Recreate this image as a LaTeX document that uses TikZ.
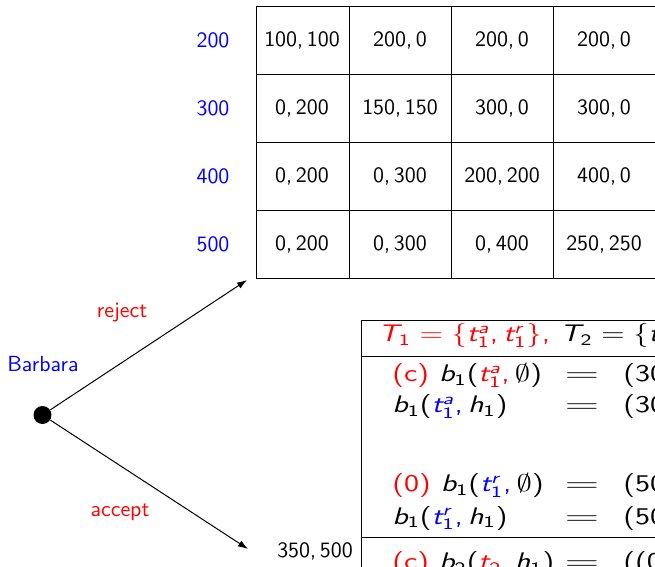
\documentclass[tikz,border=0pt,11pt]{standalone}
\usepackage{graphicx}
\usetikzlibrary{arrows.meta}
\DeclareSymbolFont{sfup}{TU}{lmss}{m}{n}
\DeclareSymbolFont{sfsl}{TU}{lmss}{m}{sl}
\DeclareMathSymbol{a}{\mathalpha}{sfsl}{`a}
\DeclareMathSymbol{b}{\mathalpha}{sfsl}{`b}
\DeclareMathSymbol{h}{\mathalpha}{sfsl}{`h}
\DeclareMathSymbol{r}{\mathalpha}{sfsl}{`r}
\DeclareMathSymbol{t}{\mathalpha}{sfsl}{`t}
\DeclareMathSymbol{T}{\mathalpha}{sfsl}{`T}
\DeclareMathSymbol{0}{\mathalpha}{sfup}{`0}
\DeclareMathSymbol{1}{\mathalpha}{sfup}{`1}
\DeclareMathSymbol{2}{\mathalpha}{sfup}{`2}
\DeclareMathSymbol{3}{\mathalpha}{sfup}{`3}
\DeclareMathSymbol{4}{\mathalpha}{sfup}{`4}
\DeclareMathSymbol{5}{\mathalpha}{sfup}{`5}
\DeclareMathSymbol{6}{\mathalpha}{sfup}{`6}
\DeclareMathSymbol{7}{\mathalpha}{sfup}{`7}
\DeclareMathSymbol{8}{\mathalpha}{sfup}{`8}
\DeclareMathSymbol{9}{\mathalpha}{sfup}{`9}
\DeclareMathSymbol{=}{\mathrel}{sfup}{`=}
\DeclareMathSymbol{,}{\mathpunct}{sfup}{`,}
\DeclareMathSymbol{(}{\mathopen}{sfup}{`(}
\DeclareMathSymbol{)}{\mathclose}{sfup}{`)}
\newcommand{\wideb}[1]{\scalebox{1.28}[1]{#1}}
\newcommand{\wideq}{\scalebox{1.9}[1]{$=$}}
\newcommand{\rc}{\mathpunct{\textcolor{red}{,}}}
\newcommand{\bc}{\mathpunct{\textcolor{blue}{,}}}
\tikzset{
  every node/.style={font=\sffamily, inner sep=0pt},
  cell/.style={anchor=base},
  rowlab/.style={anchor=base, text=blue},
  grid line/.style={line width=0.5pt, black},
  dotnode/.style={circle, fill=black, minimum size=9pt},
  arr/.style={line width=0.5pt, -{Latex[length=5pt,width=3.4pt]}},
  boxtext/.style={font=\sffamily\fontsize{12}{14}\selectfont},
  lhs/.style={boxtext, anchor=base west},
  eqs/.style={boxtext, anchor=base},
  rhs/.style={boxtext, anchor=base west}
}
\begin{document}
\begin{tikzpicture}[x={(0.5pt,0)}, y={(0,-0.5pt)}]
\useasboundingbox (0,0) rectangle (655,567);
\clip (0,0) rectangle (655,567);
% payoff table
\draw[grid line] (256,7) -- (700,7);
\draw[grid line] (256,75) -- (700,75);
\draw[grid line] (256,143) -- (700,143);
\draw[grid line] (256,211) -- (700,211);
\draw[grid line] (256,279) -- (700,279);
\draw[grid line] (256,7) -- (256,279);
\draw[grid line] (349,7) -- (349,279);
\draw[grid line] (451,7) -- (451,279);
\draw[grid line] (553,7) -- (553,279);
\node[rowlab] (r1) at (213,48) {$200$};
\node[rowlab] (r2) at (213,116) {$300$};
\node[rowlab] (r3) at (213,184) {$400$};
\node[rowlab] (r4) at (213,252) {$500$};
\node[cell] (c11) at (302,47) {$100, 100$};
\node[cell] (c12) at (400,47) {$200, 0$};
\node[cell] (c13) at (502,47) {$200, 0$};
\node[cell] (c14) at (604,47) {$200, 0$};
\node[cell] (c21) at (302,115) {$0, 200$};
\node[cell] (c22) at (400,115) {$150, 150$};
\node[cell] (c23) at (502,115) {$300, 0$};
\node[cell] (c24) at (604,115) {$300, 0$};
\node[cell] (c31) at (302,183) {$0, 200$};
\node[cell] (c32) at (400,183) {$0, 300$};
\node[cell] (c33) at (502,183) {$200, 200$};
\node[cell] (c34) at (604,183) {$400, 0$};
\node[cell] (c41) at (302,251) {$0, 200$};
\node[cell] (c42) at (400,251) {$0, 300$};
\node[cell] (c43) at (502,251) {$0, 400$};
\node[cell] (c44) at (604,251) {$250, 250$};
% tree
\node[dotnode] (root) at (42.5,415) {};
\coordinate (rtip) at (247,280);
\coordinate (atip) at (248,549);
\draw[arr] (root) -- (rtip);
\draw[arr] (root) -- (atip);
\node[text=blue, anchor=base] (barb) at (43,372) {Barbara};
\node[text=red] (rej) at (122,313) {reject};
\node[text=red] (acc) at (120,512) {accept};
\node[anchor=base] (pay) at (315,558) {$350, 500$};
% belief box
\draw[grid line] (700,321) -- (361,321) -- (361,600);
\draw[grid line] (361,357) -- (700,357);
\draw[grid line] (361,538) -- (700,538);
\node[lhs] (hd) at (378,342) {\wideb{\color{red}$T_1=\{t_1^a,t_1^r\},$\ \color{black}$T_2=\{t_2^a,t_2^r\}$}};
\node[lhs] (l1) at (392,382) {\wideb{\color{red}(c)\ \color{black}$b_1(\textcolor{red}{t_1^a}\rc\emptyset)$}};
\node[eqs] (e1) at (582,382) {\wideq};
\node[rhs] (v1) at (623,382) {\wideb{$(300, 0)$}};
\node[lhs] (l2) at (392,413) {\wideb{$b_1(\textcolor{blue}{t_1^a}\bc h_1)$}};
\node[eqs] (e2) at (582,413) {\wideq};
\node[rhs] (v2) at (623,413) {\wideb{$(300, 0)$}};
\node[lhs] (l3) at (392,492) {\wideb{\color{red}(0)\ \color{black}$b_1(\textcolor{blue}{t_1^r}\bc\emptyset)$}};
\node[eqs] (e3) at (582,492) {\wideq};
\node[rhs] (v3) at (623,492) {\wideb{$(500, 0)$}};
\node[lhs] (l4) at (392,524) {\wideb{$b_1(\textcolor{blue}{t_1^r}\bc h_1)$}};
\node[eqs] (e4) at (582,524) {\wideq};
\node[rhs] (v4) at (623,524) {\wideb{$(500, 0)$}};
\node[lhs] (l5) at (392,570) {\wideb{\color{red}(c)\ \color{black}$b_2(\textcolor{red}{t_2}\rc h_1)$}};
\node[eqs] (e5) at (582,570) {\wideq};
\node[rhs] (v5) at (623,570) {\wideb{$((0, 1), 0)$}};
\end{tikzpicture}
\end{document}
